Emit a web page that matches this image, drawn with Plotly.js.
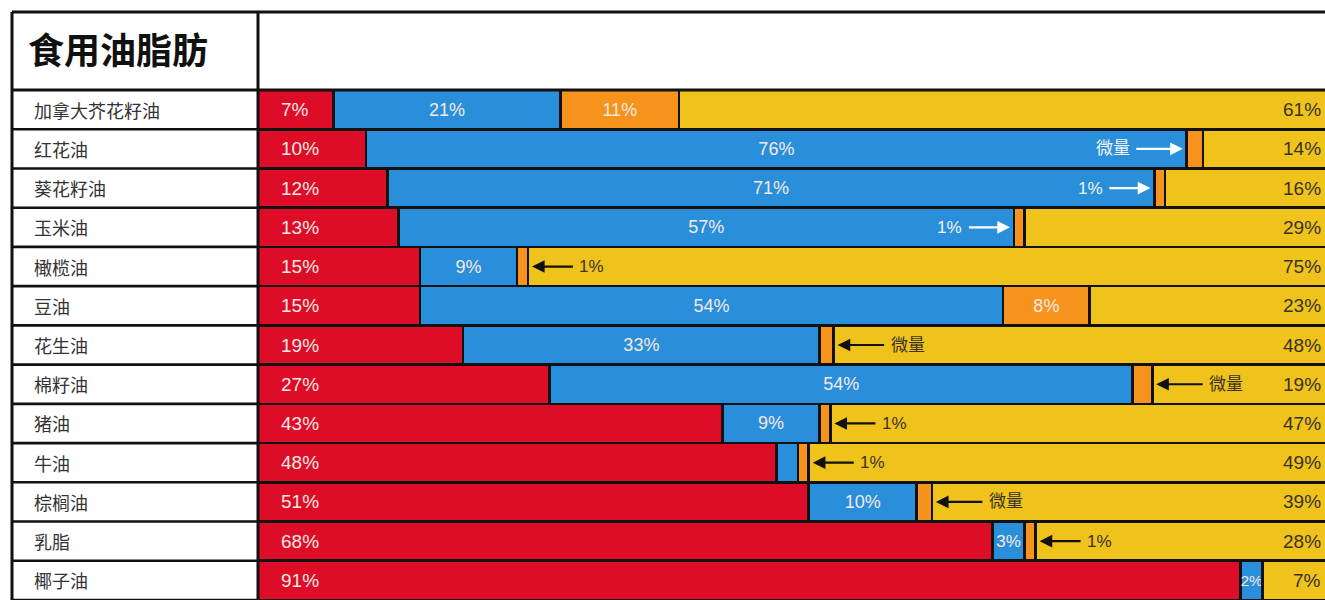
<!DOCTYPE html>
<html>
<head>
<meta charset="utf-8">
<script src="https://cdn.plot.ly/plotly-3.0.1.min.js"></script>
<style>
html,body{margin:0;padding:0;background:#fff;overflow:hidden;}
#chart{width:1325px;height:600px;}
</style>
</head>
<body>
<div id="chart"></div>
<script>
// ---- data ----
const title = '食用油脂肪';
const oils = ['加拿大芥花籽油','红花油','葵花籽油','玉米油','橄榄油','豆油','花生油','棉籽油','猪油','牛油','棕榈油','乳脂','椰子油'];
const saturated = [7,10,12,13,15,15,19,27,43,48,51,68,91];
const polyunsaturated = [21,76,71,57,9,54,33,54,9,2,10,3,2];
// omega-3 segment; "trace" rows carry a small estimated width
const omega3 = [11,1.5,1,1,1,8,1.3,1.8,1,1,1.4,1,0];
const monounsaturated = [61,14,16,29,75,23,48,19,47,49,39,28,7];
const polyLabels = ['21%','76%','71%','57%','9%','54%','33%','54%','9%','','10%','3%','2%'];
const omega3Labels = ['11%','','','','','8%','','','','','','',''];
const calloutLabels = ['','微量','1%','1%','1%','','微量','微量','1%','1%','微量','1%',''];
const calloutInBlue = [false,true,true,true,false,false,false,false,false,false,false,false,false];

// ---- style ----
const RED='#DD0C27', BLUE='#2A8FDA', ORANGE='#F6931D', YELLOW='#EFC31B';
const LIGHT='#F6E8E4', DARK='#3A3224';
const FONT='Liberation Sans, Arial, Noto Sans CJK SC, sans-serif';
const CJK='Noto Sans CJK SC, sans-serif';
const W=1325, H=600, L=258, T=90, XMAX=98.8;
const xp = px => (px - L) / (W - L);
const yp = py => (H - py) / (H - T);

const barLine = {color:'#111', width:2.6};
function barTrace(name, vals, color, texts, tcolor){
  // smaller text where the segment is very narrow
  const sizes = vals.map(v => v < 2.5 ? 15 : (v < 4 ? 17 : 18));
  return {
    type:'bar', orientation:'h', name:name, y:oils, x:vals,
    marker:{color:color, line:barLine},
    text:texts, textposition:texts?'inside':'none', insidetextanchor:'middle',
    textangle:0, constraintext:'none',
    textfont:{family:FONT, size:sizes, color:tcolor},
    hoverinfo:'skip', showlegend:false, cliponaxis:true
  };
}
const data = [
  barTrace('饱和脂肪', saturated, RED, null, LIGHT),
  barTrace('多不饱和脂肪', polyunsaturated, BLUE, polyLabels, LIGHT),
  barTrace('ω-3', omega3, ORANGE, omega3Labels, LIGHT),
  barTrace('单不饱和脂肪', monounsaturated, YELLOW, null, DARK)
];

const annotations = [];
const shapes = [];
// title
annotations.push({xref:'paper', yref:'paper', x:xp(26), y:yp(48), xanchor:'left', yanchor:'middle',
  text:'<b>'+title+'</b>', showarrow:false, font:{family:CJK, size:36, color:'#111'}});

oils.forEach((oil,i)=>{
  // row label
  annotations.push({xref:'paper', yref:'y', x:xp(32), y:oil, xanchor:'left', yanchor:'middle',
    text:oil, showarrow:false, font:{family:CJK, size:18, color:'#333'}});
  // saturated label (left aligned)
  annotations.push({xref:'x', yref:'y', x:0, y:oil, xanchor:'left', yanchor:'middle', xshift:21,
    text:saturated[i]+'%', showarrow:false, font:{family:FONT, size:19, color:LIGHT}});
  // mono label (right aligned at edge)
  annotations.push({xref:'paper', yref:'y', x:1, y:oil, xanchor:'right', yanchor:'middle', xshift:-2,
    text:monounsaturated[i]+'%', showarrow:false, font:{family:FONT, size:19, color:DARK}});
  // callouts with arrows
  const lab = calloutLabels[i];
  if(lab){
    const off = lab==='微量' ? 74 : 64;
    if(calloutInBlue[i]){
      annotations.push({xref:'x', yref:'y', x:saturated[i]+polyunsaturated[i], y:oil,
        ax:-off, ay:0, text:lab, showarrow:true, arrowhead:2, arrowsize:1.15, arrowwidth:2.2,
        borderpad:6, arrowcolor:'#fff', standoff:4, font:{family:FONT, size:17, color:'#F4F4F4'}});
    } else {
      annotations.push({xref:'x', yref:'y', x:saturated[i]+polyunsaturated[i]+omega3[i], y:oil,
        ax:off, ay:0, text:lab, showarrow:true, arrowhead:2, arrowsize:1.15, arrowwidth:2.2,
        borderpad:6, arrowcolor:'#111', standoff:4, font:{family:FONT, size:17, color:DARK}});
    }
  }
  // left column row separators
  shapes.push({type:'line', xref:'paper', yref:'y', x0:xp(12), x1:0, y0:i+0.5, y1:i+0.5,
    line:{color:'#111', width:2.6}});
});
// table frame
shapes.push({type:'line', xref:'paper', yref:'paper', x0:xp(12), x1:1.01, y0:yp(12), y1:yp(12), line:{color:'#111', width:3}});
shapes.push({type:'line', xref:'paper', yref:'paper', x0:xp(12), x1:1.01, y0:1, y1:1, line:{color:'#111', width:3}});
shapes.push({type:'line', xref:'paper', yref:'paper', x0:xp(12), x1:xp(12), y0:yp(12), y1:-0.02, line:{color:'#111', width:3}});
shapes.push({type:'line', xref:'paper', yref:'paper', x0:0, x1:0, y0:yp(12), y1:-0.02, line:{color:'#111', width:3}});

const layout = {
  width:W, height:H,
  margin:{l:L, r:0, t:T, b:0, pad:0},
  paper_bgcolor:'#fff', plot_bgcolor:'#fff',
  barmode:'stack', bargap:0,
  xaxis:{range:[0,XMAX], visible:false, fixedrange:true},
  yaxis:{type:'category', categoryorder:'array', categoryarray:oils, range:[oils.length-0.5,-0.5], visible:false, fixedrange:true},
  showlegend:false,
  annotations:annotations,
  shapes:shapes,
  font:{family:FONT}
};
Plotly.newPlot('chart', data, layout, {displayModeBar:false, staticPlot:true});
</script>
</body>
</html>
